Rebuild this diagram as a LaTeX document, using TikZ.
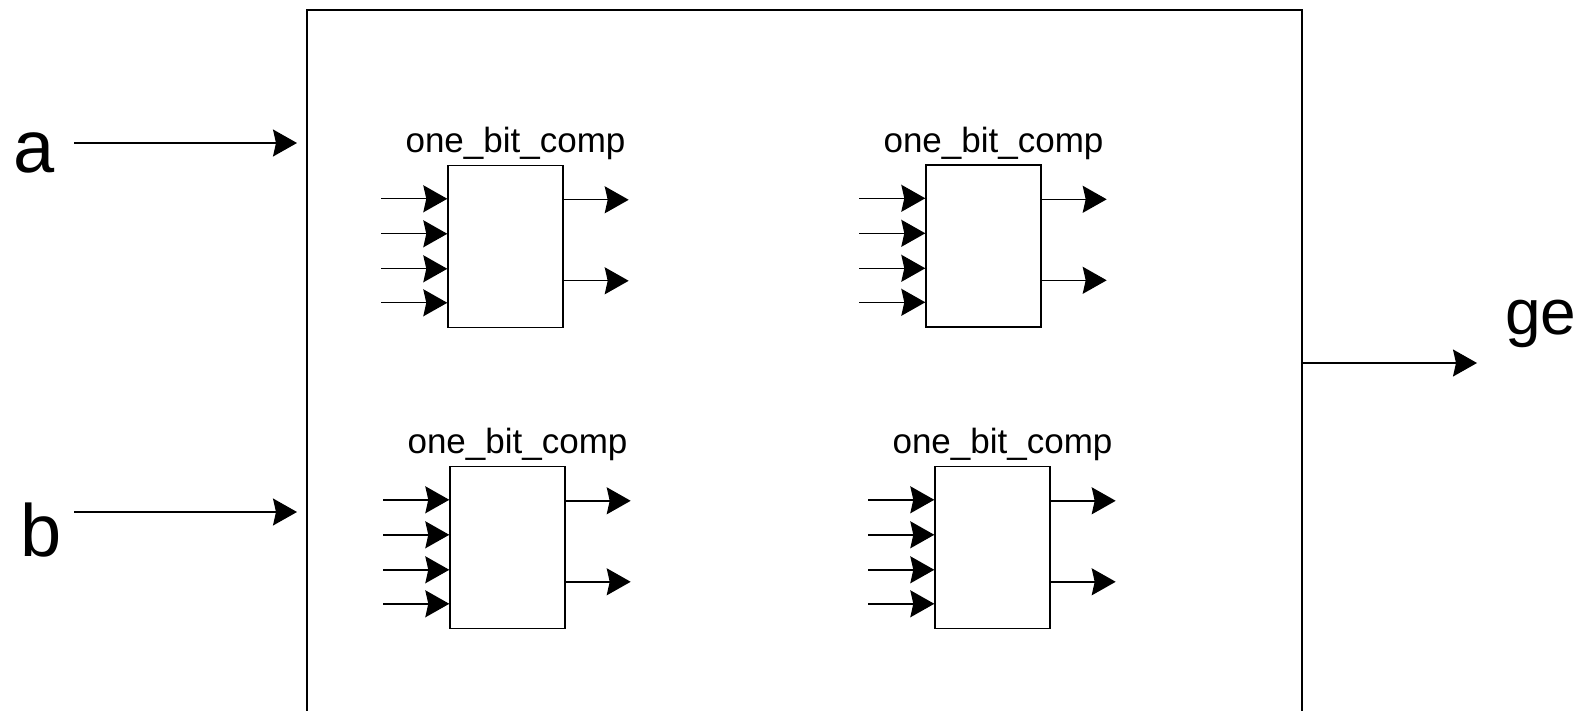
\documentclass[tikz,border=0pt]{standalone}
\usepackage{fontspec}
\setmainfont{Liberation Sans}
\usetikzlibrary{arrows.meta, positioning, calc}

\begin{document}
\begin{tikzpicture}[x=1pt, y=-1pt, >={Stealth[length=24pt, width=27pt, inset=3pt]},
    wire/.style={->, line width=1.4pt},
    comp/.style={draw, line width=1.4pt, minimum width=115pt, minimum height=162pt, inner sep=0pt},
    compname/.style={anchor=base, inner sep=0pt, font=\fontsize{35}{40}\selectfont},
    port/.style={anchor=base west, inner sep=0pt, font=\fontsize{74}{80}\selectfont}]
    \useasboundingbox (0,0) rectangle (1588,711);
    \clip (0,0) rectangle (1588,711);

    % Outer module
    \node[draw, line width=2pt, minimum width=995pt, minimum height=720pt, inner sep=0pt] (sys) at (804.5,370) {};

    % Ports
    \node[port] (a) at (13,173) {a};
    \node[port] (b) at (20,556) {b};
    \node[port, font=\fontsize{64}{70}\selectfont] (ge) at (1505,335) {ge};
    \coordinate (a-src) at (74,143);
    \coordinate (b-src) at (74,512);
    \coordinate (ge-dst) at (1477,363);
    \draw[wire, shorten >=9pt] (a-src) -- (a-src -| sys.west);
    \draw[wire, shorten >=9pt] (b-src) -- (b-src -| sys.west);
    \draw[wire] (ge-dst -| sys.east) -- (ge-dst);

    % One bit comparators
    \foreach \blk/\cx/\cy in {c1/505.5/246.5, c2/983.5/246, c3/507.5/547.5, c4/992.5/547.5} {
        \node[comp] (\blk) at (\cx,\cy) {};
        \node[compname] (\blk-name) at ($(\blk.north)+(10,-12)$) {one\_bit\_comp};
        \foreach \dy [count=\i] in {34,69,104,138} {
            \coordinate (\blk-in\i) at ($(\blk.north west)+(-66,\dy)$);
            \draw[wire] (\blk-in\i) -- (\blk-in\i -| \blk.west);
        }
        \foreach \dy [count=\i] in {35,116} {
            \coordinate (\blk-out\i) at ($(\blk.north east)+(65,\dy)$);
            \draw[wire] (\blk-out\i -| \blk.east) -- (\blk-out\i);
        }
    }
\end{tikzpicture}
\end{document}
